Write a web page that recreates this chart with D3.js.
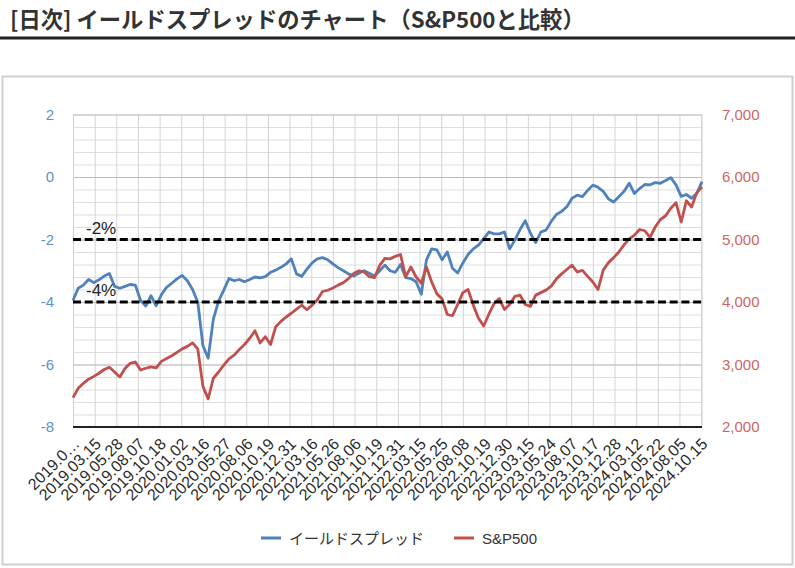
<!DOCTYPE html>
<html>
<head>
<meta charset="utf-8">
<script src="https://cdn.jsdelivr.net/npm/d3@7"></script>
<style>
html,body{margin:0;padding:0;background:#fff;}
svg{display:block;}
</style>
</head>
<body>
<svg id="chart" width="795" height="568"></svg>
<script>
// ---- data ----
const titleText = "[日次] イールドスプレッドのチャート（S&P500と比較）";
const seriesNames = ["イールドスプレッド", "S&P500"];
const dateLabels = ["2019.0…","2019.03.15","2019.05.28","2019.08.07","2019.10.18","2020.01.02","2020.03.16","2020.05.27","2020.08.06","2020.10.19","2020.12.31","2021.03.16","2021.05.26","2021.08.06","2021.10.19","2021.12.31","2022.03.15","2022.05.25","2022.08.08","2022.10.19","2022.12.30","2023.03.15","2023.05.24","2023.08.07","2023.10.17","2023.12.28","2024.03.12","2024.05.22","2024.08.05","2024.10.15"];
const labelEvery = 50;     // trading days between x labels
const sampleStep = 12;     // trading days between samples below
const lastIndex = 1452;
const spread = [-3.95,-3.56,-3.46,-3.28,-3.38,-3.29,-3.17,-3.09,-3.50,-3.56,-3.50,-3.44,-3.46,-3.95,-4.13,-3.80,-4.12,-3.77,-3.53,-3.40,-3.26,-3.15,-3.32,-3.60,-4.00,-5.40,-5.80,-4.55,-3.97,-3.62,-3.25,-3.32,-3.28,-3.35,-3.28,-3.20,-3.23,-3.19,-3.05,-2.98,-2.89,-2.78,-2.62,-3.10,-3.18,-2.95,-2.75,-2.62,-2.58,-2.65,-2.78,-2.90,-3.00,-3.10,-3.17,-3.08,-3.00,-3.08,-3.17,-3.00,-2.82,-3.00,-3.05,-2.80,-3.22,-3.25,-3.35,-3.75,-2.65,-2.30,-2.33,-2.65,-2.40,-2.92,-3.07,-2.75,-2.48,-2.30,-2.18,-1.98,-1.76,-1.82,-1.82,-1.76,-2.30,-2.02,-1.68,-1.40,-1.80,-2.10,-1.76,-1.70,-1.42,-1.20,-1.10,-0.95,-0.68,-0.58,-0.63,-0.43,-0.26,-0.33,-0.46,-0.70,-0.80,-0.63,-0.46,-0.20,-0.53,-0.37,-0.24,-0.25,-0.18,-0.20,-0.11,-0.02,-0.25,-0.62,-0.56,-0.68,-0.52,-0.15];
const sp500 = [2470,2619,2699,2765,2810,2860,2920,2955,2880,2800,2935,3019,3040,2912,2940,2962,2945,3050,3095,3140,3195,3250,3290,3345,3250,2650,2450,2780,2880,2990,3090,3150,3240,3320,3420,3540,3345,3445,3320,3605,3690,3760,3820,3885,3948,3875,3950,4035,4168,4188,4225,4270,4310,4375,4455,4500,4480,4405,4390,4585,4699,4690,4730,4760,4405,4560,4400,4300,4560,4320,4130,4050,3800,3780,3960,4150,4200,3950,3740,3615,3805,3975,4055,3880,3960,4090,4110,3960,3930,4110,4150,4190,4255,4370,4450,4520,4590,4480,4505,4410,4320,4200,4510,4630,4710,4800,4915,5010,5070,5160,5140,5035,5200,5320,5380,5500,5590,5280,5620,5520,5750,5840];
const leftTicks = [-8,-6,-4,-2,0,2];
const rightTicks = [2000,3000,4000,5000,6000,7000];
const refLines = [{v:-2,label:"-2%"},{v:-4,label:"-4%"}];

// ---- layout ----
const svg = d3.select("#chart");
const L = 73, R = 702, T = 114.5, B = 427;
const colBlue = "#4f81bd", colRed = "#c0504d";
const latin = "'Liberation Sans', Arial, sans-serif";
const cjk = "'Noto Sans CJK JP', 'Noto Sans', sans-serif";

const x = d3.scaleLinear().domain([0, lastIndex]).range([L, R]);
const yL = d3.scaleLinear().domain([-8, 2]).range([B, T]);
const yR = d3.scaleLinear().domain([2000, 7000]).range([B, T]);

// title + rule
const title = svg.append("text").attr("x", 10).attr("y", 28)
  .attr("font-family", cjk).attr("font-weight", "bold").attr("font-size", 20)
  .attr("fill", "#333").text(titleText);
const tl = title.node().getComputedTextLength();
title.attr("font-size", 20 * 575 / tl);
svg.append("rect").attr("x", 0).attr("y", 36.5).attr("width", 795).attr("height", 3).attr("fill", "#222");

// chart frame
svg.append("rect").attr("x", 2.5).attr("y", 76.5).attr("width", 790).attr("height", 488)
  .attr("fill", "#fff").attr("stroke", "#cfcfcf").attr("stroke-width", 2);

// grid
const grid = svg.append("g");
grid.append("g").attr("transform", `translate(${L},0)`)
  .call(d3.axisLeft(yL).tickValues(d3.range(-8, 2.001, 0.4).map(v => +v.toFixed(1))).tickSize(-(R - L)).tickFormat(""))
  .call(g => g.select(".domain").remove())
  .call(g => g.selectAll("line").attr("stroke", "#dedede").attr("stroke-width", 1));
grid.append("g").attr("transform", `translate(0,${B})`)
  .call(d3.axisBottom(x).tickValues(d3.range(0, lastIndex, labelEvery)).tickSize(-(B - T)).tickFormat(""))
  .call(g => g.select(".domain").remove())
  .call(g => g.selectAll("line").attr("stroke", "#d4d4d4").attr("stroke-width", 1));
grid.append("g").attr("transform", `translate(${L},0)`)
  .call(d3.axisLeft(yL).tickValues(leftTicks).tickSize(-(R - L)).tickFormat(""))
  .call(g => g.select(".domain").remove())
  .call(g => g.selectAll("line").attr("stroke", "#bdbdbd").attr("stroke-width", 1));
grid.append("line").attr("x1", R).attr("x2", R).attr("y1", T).attr("y2", B).attr("stroke", "#d4d4d4");

// axes labels
svg.append("g").attr("transform", `translate(${L},0)`)
  .call(d3.axisLeft(yL).tickValues(leftTicks).tickSize(0).tickPadding(19).tickFormat(d => String(d)))
  .call(g => g.select(".domain").remove())
  .call(g => g.selectAll("text").attr("font-family", latin).attr("font-size", 15).attr("fill", "#5f8fd0"));
svg.append("g").attr("transform", `translate(${R},0)`)
  .call(d3.axisRight(yR).tickValues(rightTicks).tickSize(0).tickPadding(20).tickFormat(d3.format(",")))
  .call(g => g.select(".domain").remove())
  .call(g => g.selectAll("text").attr("font-family", latin).attr("font-size", 15).attr("fill", "#cf6563"));

const xAxis = svg.append("g").attr("transform", `translate(0,${B})`)
  .call(d3.axisBottom(x).tickValues(d3.range(0, lastIndex, labelEvery)).tickSize(0).tickFormat((d, i) => dateLabels[i]))
  .call(g => g.select(".domain").remove());
xAxis.selectAll("text")
  .attr("font-family", latin).attr("font-size", 16).attr("fill", "#2a2a2a")
  .attr("text-anchor", "end").attr("dy", "0.35em").attr("y", 0)
  .attr("transform", "translate(3,14) rotate(-45)");

// series
const lineL = d3.line().x((d, i) => x(i * sampleStep)).y(d => yL(d));
const lineR = d3.line().x((d, i) => x(i * sampleStep)).y(d => yR(d));
svg.append("path").datum(spread).attr("d", lineL).attr("fill", "none")
  .attr("stroke", colBlue).attr("stroke-width", 2.8).attr("stroke-linejoin", "round");
svg.append("path").datum(sp500).attr("d", lineR).attr("fill", "none")
  .attr("stroke", colRed).attr("stroke-width", 2.8).attr("stroke-linejoin", "round");

// baseline
svg.append("line").attr("x1", L).attr("x2", R).attr("y1", B).attr("y2", B).attr("stroke", "#222").attr("stroke-width", 2);

// reference lines
refLines.forEach(r => {
  svg.append("line").attr("x1", L).attr("x2", R).attr("y1", yL(r.v)).attr("y2", yL(r.v))
    .attr("stroke", "#000").attr("stroke-width", 3).attr("stroke-dasharray", "8,3.7");
  svg.append("text").attr("x", 86).attr("y", yL(r.v) - 6).attr("font-family", latin)
    .attr("font-size", 17).attr("fill", "#222").text(r.label);
});

// legend
const legend = [{name: seriesNames[0], color: colBlue, x: 261}, {name: seriesNames[1], color: colRed, x: 454}];
legend.forEach(l => {
  svg.append("line").attr("x1", l.x).attr("x2", l.x + 20).attr("y1", 538).attr("y2", 538)
    .attr("stroke", l.color).attr("stroke-width", 3);
  svg.append("text").attr("x", l.x + 28).attr("y", 543.5).attr("font-family", l === legend[0] ? cjk : latin)
    .attr("font-size", 15).attr("fill", "#333").text(l.name);
});
</script>
</body>
</html>
